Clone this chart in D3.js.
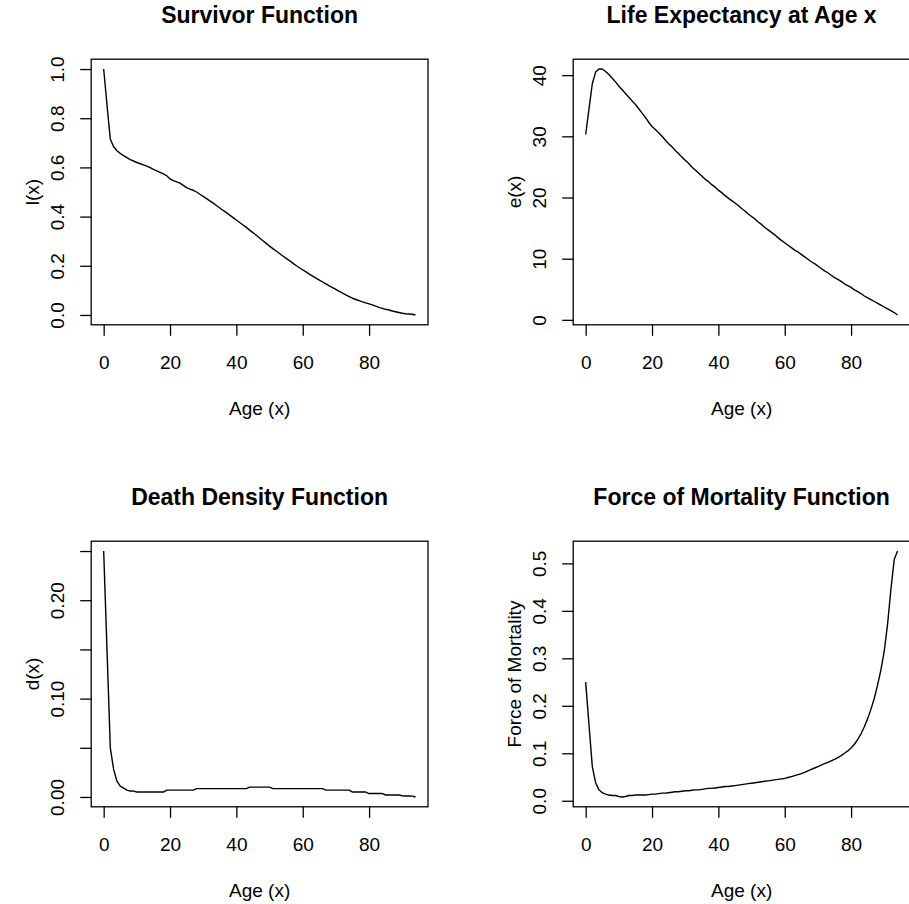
<!DOCTYPE html>
<html>
<head>
<meta charset="utf-8">
<script src="https://cdn.jsdelivr.net/npm/d3@7"></script>
<style>
  body { margin: 0; background: #fff; }
  svg { display: block; }
  text { font-family: "Liberation Sans", Arial, Helvetica, sans-serif; fill: #000; }
</style>
</head>
<body>
<script>
// life table values, one per year of age
var ages = [0,1,2,3,4,5,6,7,8,9,10,11,12,13,14,15,16,17,18,19,
    20,21,22,23,24,25,26,27,28,29,30,31,32,33,34,35,36,37,38,39,
    40,41,42,43,44,45,46,47,48,49,50,51,52,53,54,55,56,57,58,59,
    60,61,62,63,64,65,66,67,68,69,70,71,72,73,74,75,76,77,78,79,
    80,81,82,83,84,85,86,87,88,89,90,91,92,93,94];

var survivor = [1.000,0.855,0.715,0.684,0.668,0.657,0.648,0.640,0.632,0.626,
    0.620,0.615,0.610,0.605,0.599,0.592,0.586,0.580,0.574,0.566,
    0.553,0.546,0.541,0.536,0.527,0.518,0.512,0.507,0.500,0.491,
    0.482,0.473,0.464,0.455,0.445,0.435,0.425,0.416,0.406,0.396,
    0.386,0.376,0.366,0.356,0.345,0.335,0.324,0.313,0.302,0.291,
    0.280,0.270,0.260,0.250,0.240,0.230,0.221,0.211,0.201,0.192,
    0.183,0.175,0.166,0.158,0.150,0.142,0.134,0.126,0.118,0.111,
    0.104,0.096,0.089,0.082,0.075,0.068,0.063,0.058,0.053,0.049,
    0.045,0.041,0.036,0.031,0.027,0.023,0.020,0.016,0.013,0.010,
    0.007,0.005,0.004,0.003,0.000];

var lifeExp = [30.3,34.5,38.6,40.5,41.0,41.0,40.6,40.1,39.5,38.9,
    38.2,37.6,37.0,36.4,35.8,35.2,34.5,33.8,33.1,32.3,
    31.6,31.1,30.6,30.0,29.4,28.8,28.3,27.7,27.2,26.6,
    26.1,25.6,25.0,24.5,24.0,23.5,23.0,22.6,22.1,21.7,
    21.2,20.8,20.3,19.9,19.5,19.1,18.7,18.2,17.8,17.3,
    16.9,16.5,16.0,15.6,15.1,14.7,14.3,13.9,13.4,13.0,
    12.6,12.2,11.8,11.4,11.1,10.7,10.3,9.9,9.5,9.2,
    8.8,8.4,8.0,7.7,7.3,6.9,6.6,6.3,5.9,5.6,
    5.3,4.9,4.6,4.3,3.9,3.6,3.3,3.0,2.7,2.4,
    2.1,1.8,1.5,1.2,0.8];

var deathDensity = [0.250,0.150,0.050,0.028,0.016,0.011,0.009,0.007,0.006,0.006,
    0.005,0.005,0.005,0.005,0.005,0.005,0.005,0.005,0.005,0.007,
    0.007,0.007,0.007,0.007,0.007,0.007,0.007,0.007,0.0085,0.0085,
    0.0085,0.0085,0.0085,0.0085,0.0085,0.0085,0.0085,0.0085,0.0085,0.0085,
    0.0085,0.0085,0.0085,0.0085,0.010,0.010,0.010,0.010,0.010,0.010,
    0.010,0.0085,0.0085,0.0085,0.0085,0.0085,0.0085,0.0085,0.0085,0.0085,
    0.0085,0.0085,0.0085,0.0085,0.0085,0.0085,0.0085,0.007,0.007,0.007,
    0.007,0.007,0.007,0.007,0.007,0.005,0.005,0.005,0.005,0.005,
    0.0035,0.0035,0.0035,0.0035,0.0035,0.002,0.002,0.002,0.002,0.002,
    0.0012,0.001,0.001,0.0008,0.000];

var forceMortality = [0.250,0.160,0.072,0.038,0.023,0.017,0.014,0.012,0.011,0.011,
    0.009,0.008,0.009,0.011,0.011,0.012,0.012,0.012,0.012,0.013,
    0.014,0.014,0.015,0.016,0.016,0.017,0.018,0.019,0.019,0.020,
    0.021,0.021,0.022,0.023,0.023,0.024,0.025,0.026,0.026,0.027,
    0.028,0.029,0.030,0.030,0.031,0.032,0.033,0.034,0.035,0.036,
    0.037,0.038,0.039,0.040,0.041,0.042,0.043,0.044,0.045,0.046,
    0.047,0.049,0.051,0.053,0.055,0.057,0.060,0.063,0.066,0.069,
    0.072,0.075,0.078,0.081,0.084,0.087,0.091,0.095,0.100,0.105,
    0.111,0.119,0.129,0.141,0.156,0.173,0.193,0.216,0.244,0.276,
    0.315,0.372,0.445,0.508,0.526];

var xTicks = [0, 20, 40, 60, 80];
var survivorTicks = [0.0, 0.2, 0.4, 0.6, 0.8, 1.0];
var lifeExpTicks = [0, 10, 20, 30, 40];
var densityTicks = [0.00, 0.05, 0.10, 0.15, 0.20, 0.25];
var densityLabelled = [0.00, 0.10, 0.20];
var mortalityTicks = [0.0, 0.1, 0.2, 0.3, 0.4, 0.5];

var titles = ["Survivor Function", "Life Expectancy at Age x", "Death Density Function", "Force of Mortality Function"];
var yLabels = ["l(x)", "e(x)", "d(x)", "Force of Mortality"];
var xLabel = "Age (x)";

var W = 909, H = 904;
var cell = 482;
var box = {left: 91.2, top: 59.2, width: 336.8, height: 265.6};
var tickLen = 11;

var svg = d3.select("body").append("svg").attr("width", W).attr("height", H);

// R style axis range: data extent plus 4% on each side
function padded(values) {
    var ext = d3.extent(values);
    var pad = (ext[1] - ext[0]) * 0.04;
    return [ext[0] - pad, ext[1] + pad];
}

function drawPanel(col, row, values, yTicks, yFormat, title, yLabel) {
    var g = svg.append("g")
        .attr("transform", "translate(" + (col * cell + box.left) + "," + (row * cell + box.top) + ")");

    var xScale = d3.scaleLinear().domain(padded(ages)).range([0, box.width]);
    var yScale = d3.scaleLinear().domain(padded(values)).range([box.height, 0]);

    var line = d3.line()
        .x(function (d, i) { return xScale(ages[i]); })
        .y(function (d) { return yScale(d); });

    g.append("path")
        .datum(values)
        .attr("fill", "none")
        .attr("stroke", "#000")
        .attr("stroke-width", 1.4)
        .attr("stroke-linejoin", "round")
        .attr("d", line);

    var xAxis = g.append("g")
        .attr("transform", "translate(0," + box.height + ")")
        .call(d3.axisBottom(xScale).tickValues(xTicks).tickSize(tickLen).tickFormat(d3.format("d")));
    xAxis.select(".domain").remove();
    xAxis.selectAll("line").attr("stroke", "#000").attr("stroke-width", 1.3);
    xAxis.selectAll("text")
        .attr("y", 44.2).attr("dy", null)
        .style("font-size", "19px").attr("fill", "#000");

    var yAxis = g.append("g")
        .call(d3.axisLeft(yScale).tickValues(yTicks).tickSize(tickLen).tickFormat(yFormat));
    yAxis.select(".domain").remove();
    yAxis.selectAll("line").attr("stroke", "#000").attr("stroke-width", 1.3);
    yAxis.selectAll("text")
        .attr("transform", "rotate(-90)")
        .attr("x", 0).attr("y", -27.7).attr("dy", null)
        .style("text-anchor", "middle")
        .style("font-size", "19px").attr("fill", "#000");

    g.append("rect")
        .attr("width", box.width).attr("height", box.height)
        .attr("fill", "none").attr("stroke", "#000").attr("stroke-width", 1.3);

    g.append("text")
        .attr("x", box.width / 2).attr("y", -36.5)
        .attr("text-anchor", "middle")
        .style("font-size", "23px").style("font-weight", "bold")
        .text(title);

    g.append("text")
        .attr("x", box.width / 2).attr("y", box.height + 90.7)
        .attr("text-anchor", "middle")
        .style("font-size", "19px")
        .text(xLabel);

    g.append("text")
        .attr("transform", "translate(-52.2," + (box.height / 2) + ")rotate(-90)")
        .attr("text-anchor", "middle")
        .style("font-size", "19px")
        .text(yLabel);
}

drawPanel(0, 0, survivor, survivorTicks, d3.format(".1f"), titles[0], yLabels[0]);
drawPanel(1, 0, lifeExp, lifeExpTicks, d3.format("d"), titles[1], yLabels[1]);
drawPanel(0, 1, deathDensity, densityTicks, function (d) {
    return densityLabelled.indexOf(d) >= 0 ? d3.format(".2f")(d) : "";
}, titles[2], yLabels[2]);
drawPanel(1, 1, forceMortality, mortalityTicks, d3.format(".1f"), titles[3], yLabels[3]);
</script>
</body>
</html>
